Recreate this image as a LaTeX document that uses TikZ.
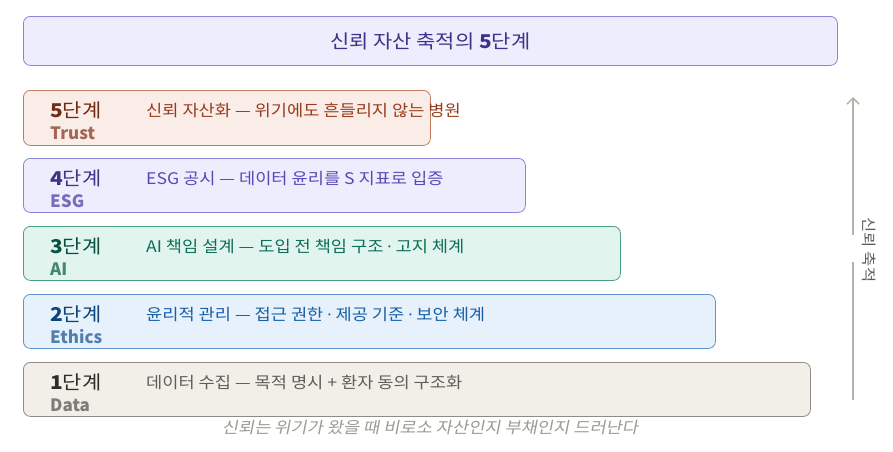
\documentclass[tikz,border=0pt]{standalone}
\usepackage{fontspec}
\setmainfont{Noto Sans CJK KR}[FakeStretch = 1.1]
\newfontfamily\latinfont{Noto Sans CJK KR}
\newfontfamily\dotfont{Noto Sans}
\newfontfamily\slantfont[FakeSlant = 0.2, FakeStretch = 1.1]{Noto Sans CJK KR}
\newcommand{\mdot}{{\dotfont ·}}
\usepackage{tikz}
\usetikzlibrary{math,arrows.meta}
\usepackage{xcolor}

\definecolor{titleFill}{HTML}{EEEDFE}
\definecolor{titleLine}{HTML}{8A84DA}
\definecolor{trustFill}{HTML}{FAECE7}
\definecolor{trustLine}{HTML}{C47A5E}
\definecolor{trustDark}{HTML}{712B13}
\definecolor{trustMid}{HTML}{A26652}
\definecolor{trustText}{HTML}{993C1D}
\definecolor{esgFill}{HTML}{EEEDFE}
\definecolor{esgLine}{HTML}{8A84DA}
\definecolor{esgDark}{HTML}{3C3489}
\definecolor{esgMid}{HTML}{746DBB}
\definecolor{esgText}{HTML}{534AB7}
\definecolor{aiFill}{HTML}{E1F5EE}
\definecolor{aiLine}{HTML}{4E9E80}
\definecolor{aiDark}{HTML}{085041}
\definecolor{aiMid}{HTML}{46866F}
\definecolor{aiText}{HTML}{0F6E56}
\definecolor{ethicsFill}{HTML}{E6F1FB}
\definecolor{ethicsLine}{HTML}{5E93CC}
\definecolor{ethicsDark}{HTML}{0C447C}
\definecolor{ethicsMid}{HTML}{527EAD}
\definecolor{ethicsText}{HTML}{185FA5}
\definecolor{dataFill}{HTML}{F1EFE8}
\definecolor{dataLine}{HTML}{8E8C85}
\definecolor{dataDark}{HTML}{2C2C2A}
\definecolor{dataMid}{HTML}{7E7C78}
\definecolor{dataText}{HTML}{5F5E5A}
\definecolor{axisGray}{HTML}{B4B2A9}
\definecolor{noteGray}{HTML}{9C9A94}

\tikzset{
  stepbox/.style = {draw, rounded corners = 7pt, line width = 0.8pt,
    anchor = north west, inner sep = 0pt},
  steplabel/.style = {anchor = base west, inner sep = 0pt,
    font = \fontsize{19}{22}\selectfont},
  stepsub/.style = {anchor = base west, inner sep = 0pt,
    font = \fontsize{17}{20}\selectfont\latinfont\bfseries},
  steptext/.style = {anchor = base west, inner sep = 0pt,
    font = \fontsize{16}{19}\selectfont},
  axisline/.style = {draw = axisGray, line width = 1.5pt}
}

\begin{document}
\begin{tikzpicture}[x = 1pt, y = -1pt]
    \tikzmath{
      \boxX = 23;
      \labelX = 50;
      \textX = 146;
      \boxH = 54;
      \labelDY = 27;
      \subDY = 49;
      \textDY = 26;
      \stepW = 95;
      \topTrust = 90;
      \topEsg = 158;
      \topAi = 226;
      \topEthics = 294;
      \topData = 362;
      \axisX = 853;
    }
    \useasboundingbox (0, 0) rectangle (893, 451);
    % title
    \node[stepbox, fill = titleFill, draw = titleLine,
      minimum width = 814pt, minimum height = 49pt] (titleBox) at (\boxX, 16) {};
    \node[text = esgDark, font = \fontsize{19}{22}\selectfont]
    (titleText) at (titleBox.center) {신뢰 자산 축적의 \textbf{5}단계};
    % step 5
    \node[stepbox, fill = trustFill, draw = trustLine,
      minimum width = 407pt, minimum height = 55pt] (boxTrust) at (\boxX, \topTrust) {};
    \node[steplabel, text = trustDark] (lblTrust)
    at (\labelX, \topTrust + \labelDY) {\textbf{5}단계};
    \node[stepsub, text = trustMid] (subTrust)
    at (\labelX, \topTrust + \subDY) {Trust};
    \node[steptext, text = trustText] (txtTrust)
    at (\textX, \topTrust + \textDY) {신뢰 자산화 — 위기에도 흔들리지 않는 병원};
    % step 4
    \node[stepbox, fill = esgFill, draw = esgLine,
      minimum width = 407pt + \stepW pt, minimum height = \boxH pt] (boxEsg) at (\boxX, \topEsg) {};
    \node[steplabel, text = esgDark] (lblEsg)
    at (\labelX, \topEsg + \labelDY) {\textbf{4}단계};
    \node[stepsub, text = esgMid] (subEsg)
    at (\labelX, \topEsg + \subDY) {ESG};
    \node[steptext, text = esgText] (txtEsg)
    at (\textX, \topEsg + \textDY) {ESG 공시 — 데이터 윤리를 S 지표로 입증};
    % step 3
    \node[stepbox, fill = aiFill, draw = aiLine,
      minimum width = 407pt + 2*\stepW pt, minimum height = \boxH pt] (boxAi) at (\boxX, \topAi) {};
    \node[steplabel, text = aiDark] (lblAi)
    at (\labelX, \topAi + \labelDY) {\textbf{3}단계};
    \node[stepsub, text = aiMid] (subAi)
    at (\labelX, \topAi + \subDY) {AI};
    \node[steptext, text = aiText] (txtAi)
    at (\textX, \topAi + \textDY) {AI 책임 설계 — 도입 전 책임 구조 \mdot{} 고지 체계};
    % step 2
    \node[stepbox, fill = ethicsFill, draw = ethicsLine,
      minimum width = 407pt + 3*\stepW pt, minimum height = \boxH pt] (boxEthics) at (\boxX, \topEthics) {};
    \node[steplabel, text = ethicsDark] (lblEthics)
    at (\labelX, \topEthics + \labelDY) {\textbf{2}단계};
    \node[stepsub, text = ethicsMid] (subEthics)
    at (\labelX, \topEthics + \subDY) {Ethics};
    \node[steptext, text = ethicsText] (txtEthics)
    at (\textX, \topEthics + \textDY) {윤리적 관리 — 접근 권한 \mdot{} 제공 기준 \mdot{} 보안 체계};
    % step 1
    \node[stepbox, fill = dataFill, draw = dataLine,
      minimum width = 407pt + 4*\stepW pt, minimum height = \boxH pt] (boxData) at (\boxX, \topData) {};
    \node[steplabel, text = dataDark] (lblData)
    at (\labelX, \topData + \labelDY) {\textbf{1}단계};
    \node[stepsub, text = dataMid] (subData)
    at (\labelX, \topData + \subDY) {Data};
    \node[steptext, text = dataText] (txtData)
    at (\textX, \topData + \textDY) {데이터 수집 — 목적 명시 + 환자 동의 구조화};
    % note
    \node[text = noteGray, font = \fontsize{16}{19}\selectfont\slantfont]
    (note) at (430, 428) {신뢰는 위기가 왔을 때 비로소 자산인지 부채인지 드러난다};
    % axis
    \coordinate (axisBottom) at (\axisX, 400);
    \coordinate (gapLow) at (\axisX, 262);
    \coordinate (gapHigh) at (\axisX, 235);
    \coordinate (axisTop) at (\axisX, 97);
    \draw[axisline] (axisBottom) -- (gapLow);
    \draw[axisline, -{Straight Barb[length = 6pt, width = 12pt]}] (gapHigh) -- (axisTop);
    \node[rotate = -90, text = dataText, font = \fontsize{15}{18}\selectfont]
    (axisLabel) at (869, 250) {신뢰 축적};
  \end{tikzpicture}
\end{document}
